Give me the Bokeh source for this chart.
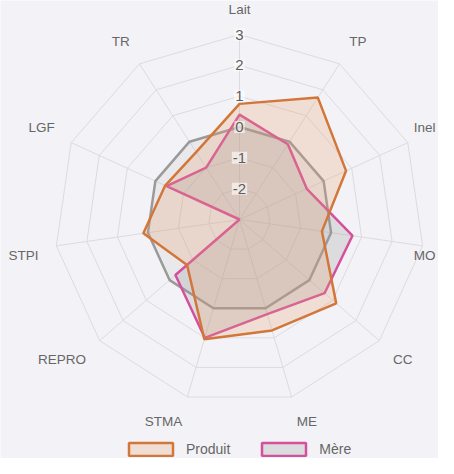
import numpy as np
from bokeh.plotting import figure
from bokeh.models import Range1d, Legend, LegendItem, ColumnDataSource
from bokeh.core.properties import value
from bokeh.embed import file_html
from bokeh.resources import INLINE

# ---- data ----
labels = ["Lait", "TP", "Inel", "MO", "CC", "ME", "STMA", "REPRO", "STPI", "LGF", "TR"]
produit = [0.75, 1.7, 0.8, -0.3, 1.15, 0.75, 1.05, -0.75, 0.15, -0.35, -0.4]
mere = [0.4, -0.1, -0.6, 0.7, 0.65, 0.2, 1.0, -0.25, -3.0, -0.4, -1.0]
reference = [0, 0, 0, 0, 0, 0, 0, 0, 0, 0, 0]
ticks = [-2, -1, 0, 1, 2, 3]
vmin, vmax = -3, 3

# ---- geometry ----
n = len(labels)
theta = np.arange(n) * 2 * np.pi / n
S = 185 / (vmax - vmin)          # px per unit
W, H = 438, 458
cx, cy = 239, 219                # centre in px from top-left of the figure

def polar(vals):
    r = np.asarray(vals, dtype=float) - vmin
    return r * np.sin(theta), r * np.cos(theta)

FONT = "Liberation Sans"
BG = "#f3f3f7"
GRID = "#dcdce0"
LABEL_PX = 13.5

p = figure(width=W, height=H,
           x_range=Range1d(-cx / S, (W - cx) / S),
           y_range=Range1d(-(H - cy) / S, cy / S),
           output_backend="svg", toolbar_location=None, min_border=0)
p.axis.visible = False
p.grid.visible = False
p.outline_line_color = None
p.background_fill_color = BG
p.border_fill_color = BG

# grid rings and spokes
ring_xs, ring_ys = [], []
for t in ticks:
    xs, ys = polar([t] * n)
    ring_xs.append(list(xs) + [xs[0]])
    ring_ys.append(list(ys) + [ys[0]])
p.multi_line(ring_xs, ring_ys, line_color=GRID, line_width=1)
ox, oy = polar([vmax] * n)
p.multi_line([[0, x] for x in ox], [[0, y] for y in oy], line_color=GRID, line_width=1)

# series
gx, gy = polar(reference)
p.patch(list(gx), list(gy), fill_color="#969696", fill_alpha=0.1,
        line_color="#9a9a9a", line_width=2.5)
mx, my = polar(mere)
r_mere = p.patch(list(mx), list(my), fill_color="#969696", fill_alpha=0.25,
                 line_color="#d4509c", line_width=2.5)
px_, py_ = polar(produit)
r_prod = p.patch(list(px_), list(py_), fill_color="#e6a06e", fill_alpha=0.25,
                 line_color="#d2763a", line_width=2.5)

# point labels
LR = (vmax - vmin) + 18 / S
xmax_data = (W - 3 - cx) / S
lx, ly, al, bl = [], [], [], []
for k, th in enumerate(theta):
    x = LR * np.sin(th)
    y = LR * np.cos(th)
    deg = np.degrees(th)
    if abs(deg) < 1e-6 or abs(deg - 180) < 1e-6:
        a = "center"
    elif deg < 180:
        a = "left"
    else:
        a = "right"
    # keep labels that would run past the right edge inside the figure
    est_w = 0.6 * LABEL_PX * len(labels[k]) / S
    if a == "left" and x + est_w > xmax_data:
        x, a = xmax_data, "right"
    lx.append(x)
    ly.append(y)
    al.append(a)
    bl.append("bottom" if (deg < 90 or deg > 270) else "top")
src = ColumnDataSource(dict(x=lx, y=ly, t=labels, a=al, b=bl))
p.text(x="x", y="y", text="t", text_align="a", text_baseline="b", source=src,
       text_font=value(FONT), text_font_size=f"{LABEL_PX}px", text_color="#666666")

# tick labels
tsrc = ColumnDataSource(dict(x=[0] * len(ticks), y=[t - vmin for t in ticks],
                             t=[str(t) for t in ticks]))
p.text(x="x", y="y", text="t", source=tsrc, text_align="center",
       text_baseline="middle", text_font=value(FONT), text_font_size="15px",
       text_color="#5e5e5e", background_fill_color="white",
       background_fill_alpha=0.6, padding=1)

legend = Legend(items=[LegendItem(label="Produit", renderers=[r_prod]),
                       LegendItem(label="Mère", renderers=[r_mere])],
                orientation="horizontal", location=(123, 1),
                glyph_width=55, glyph_height=16, label_height=16,
                label_standoff=8, spacing=26, padding=0, margin=0,
                border_line_color=None, background_fill_alpha=0,
                label_text_font=FONT, label_text_font_size="14px",
                label_text_color="#666666")
p.add_layout(legend)

open("out.html", "w").write(file_html(p, INLINE))
